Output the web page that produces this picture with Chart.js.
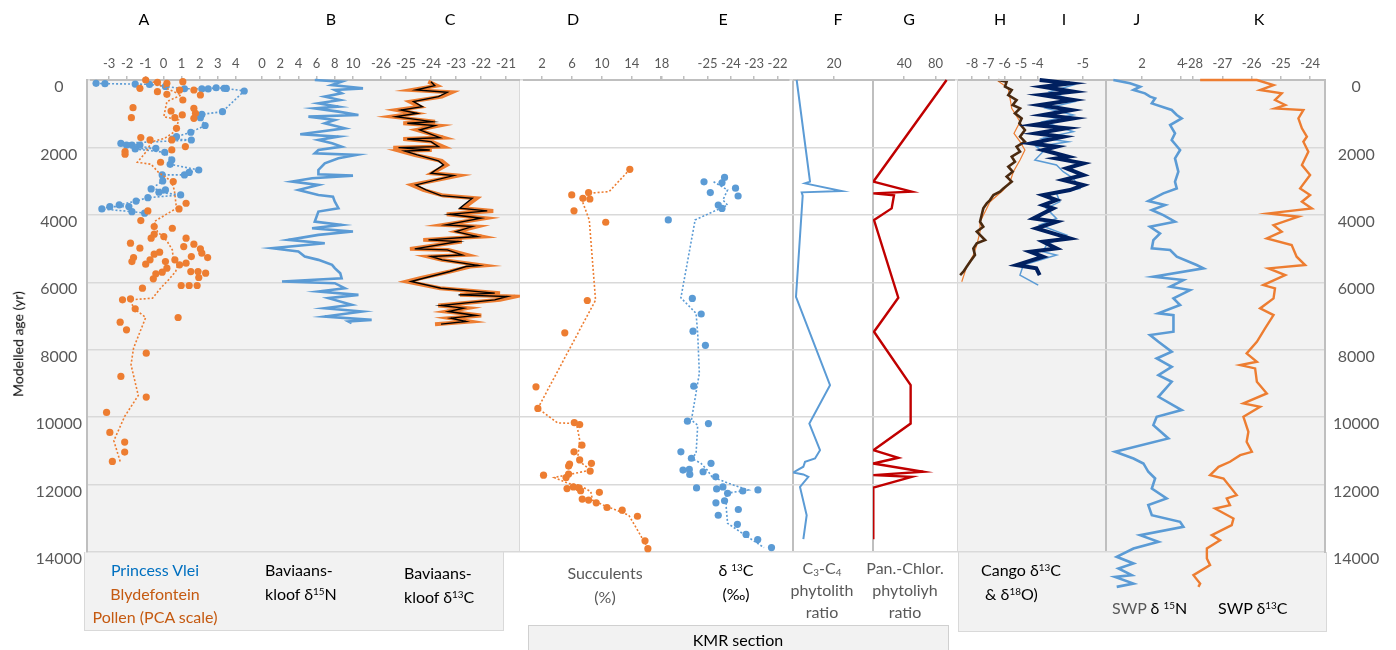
<!DOCTYPE html>
<html>
<head>
<meta charset="utf-8">
<title>Proxy records 0-14000 yr</title>
<script src="https://cdn.jsdelivr.net/npm/chart.js"></script>
<style>
  body { margin: 0; background: #fff; }
  #wrap { position: relative; width: 1396px; height: 650px; overflow: hidden; font-family: Lato, "Liberation Sans", sans-serif; }
  #wrap canvas { position: absolute; top: 0; }
  .bg { position: absolute; background: #f2f2f2; }
  .vl { position: absolute; top: 80px; height: 472px; }
  .t { position: absolute; white-space: nowrap; font-size: 16px; line-height: 23.5px; color: #000; }
  .c { transform: translateX(-50%); text-align: center; }
  .g { color: #595959; }
  .lt { position: absolute; top: 9px; font-size: 16px; line-height: 20px; transform: translateX(-50%); }
  sup { font-size: 0.62em; vertical-align: 0.55em; line-height: 0; }
  sub { font-size: 0.62em; vertical-align: -0.25em; line-height: 0; }
</style>
</head>
<body>
<div id="wrap">
  <!-- panel backgrounds -->
  <div class="bg" style="left:86px;top:80px;width:434px;height:472px"></div>
  <div class="bg" style="left:84px;top:552px;width:418px;height:78px;border:1.5px solid #d9d9d9;border-top:none"></div>
  <div class="bg" style="left:958px;top:80px;width:367px;height:472px"></div>
  <div class="bg" style="left:958px;top:552px;width:367px;height:79px;border:1.5px solid #d9d9d9;border-top:none"></div>
  <div class="bg" style="left:528px;top:625px;width:419px;height:30px;border:1px solid #d0d0d0"></div>
  <div class="vl" style="left:519px;border-left:1.5px solid #d9d9d9"></div>
  <div class="vl" style="left:957px;border-left:1.5px solid #d9d9d9"></div>
  <div class="vl" style="left:792px;border-left:2px solid #bfbfbf"></div>
  <div class="vl" style="left:872px;border-left:2px solid #bfbfbf"></div>
  <div class="vl" style="left:1105px;border-left:2px solid #bfbfbf"></div>
</div>
<script>
// age axis (yr), shared by every panel
const AGE_TICKS = [0, 2000, 4000, 6000, 8000, 10000, 12000, 14000];

// A - Princess Vlei (blue) and Blydefontein (orange) pollen PCA
const aBlueAge = [100,110,120,130,190,260,265,265,230,245,250,326,940,1020,1120,1350,1550,1680,1750,1780,1880,1930,1930,1930,2025,2045,2145,2370,2500,2670,2740,2815,2815,2995,3230,3260,3330,3410,3490,3590,3705,3755,3755,3825,3905,3950];
const aBlueVal = [-3.72,-3.23,-1.56,-0.77,0.11,1.16,2.12,2.47,2.91,3.35,3.47,4.46,3.26,2.12,2.04,2.30,1.51,0.72,0.49,1.54,-2.35,-1.30,-1.74,-2.04,-0.42,-1.56,0.07,0.46,0.37,1.95,1.42,1.16,-0.07,-0.04,-0.68,0.11,-0.25,0.95,-0.86,-1.51,-2.44,-1.91,-2.96,-3.40,-1.74,-1.04];
const aOrangeAge = [0,49,69,99,247,296,296,346,425,445,593,820,840,919,988,1037,1116,1116,1136,1433,1709,1778,1778,1976,2075,2124,2203,2440,3013,3656,3824,3883,4169,4347,4397,4574,4644,4693,4693,4841,4871,4940,4989,5009,5108,5138,5167,5236,5266,5266,5335,5335,5385,5385,5434,5464,5483,5582,5681,5681,5701,5730,5750,5858,5898,6096,6096,6096,6175,6491,6520,6788,7044,7183,7410,8102,8793,9406,9860,10453,10740,11036,11313];
const aOrangeVal = [-0.98,1.07,-0.33,0.19,-1.30,0.89,1.68,-0.33,0.19,2.04,1.07,-1.68,1.68,0.42,1.77,1.04,-1.77,0.63,1.68,0.72,-1.25,-0.74,0.46,1.21,0.46,-2.12,-2.12,-0.16,0.54,1.25,0.86,-0.86,-1.25,-0.51,0.49,-0.51,0.02,-0.68,1.25,-1.82,1.68,1.12,-1.30,2.04,-0.21,2.12,-0.51,1.54,2.44,-1.65,-0.74,0.63,-1.74,0.11,1.25,-0.98,0.89,0.19,1.51,1.91,-0.07,2.33,-0.42,1.95,-0.56,0.98,1.42,1.86,-1.16,-1.82,-2.26,-1.56,0.81,-2.39,-2.04,-0.95,-2.35,-0.95,-3.14,-2.96,-2.14,-2.14,-2.82];
const aTrendAge = [49,296,445,642,1087,1186,1512,1729,1828,2144,2440,2500,2737,2994,3260,3804,4199,4496,4772,5039,5286,5434,5681,5928,6175,6471,6521,6768,7044,7953,8447,9356,9979,10700,11313];
const aTrendVal = [-0.60,0.37,0.98,0.19,0.02,0.84,0.67,0.07,-0.63,-0.98,-1.44,-0.68,-0.28,0.42,0.60,0.72,-0.51,-0.33,0.19,0.49,0.54,0.84,0.67,0.28,-0.16,-0.60,-1.82,-1.65,-0.98,-1.65,-1.79,-1.39,-2.14,-2.74,-2.39];

// B - Baviaanskloof d15N
const bAge = [0,49,148,247,296,395,494,593,692,790,840,939,1037,1087,1186,1284,1433,1610,1680,1778,1877,1976,2075,2174,2223,2322,2470,2668,2796,2836,2915,3013,3112,3260,3409,3458,3606,3804,3903,4199,4298,4397,4496,4594,4742,4841,4989,5088,5236,5335,5483,5582,5730,5879,5977,6027,6175,6274,6373,6471,6669,6768,6867,7015,7114,7163,7212];
const bVal = [5.8,8.75,7.65,11.1,8.0,8.75,6.9,8.6,6.2,8.4,5.8,8.4,10.6,5.1,8.0,6.9,9.1,4.2,8.4,6.2,7.7,8.75,6.2,5.8,10.4,8.4,6.9,6.2,6.2,10.0,5.5,3.3,6.2,4.0,6.2,7.8,8.0,8.4,6.2,5.8,8.75,5.5,10.0,6.2,2.9,6.9,1.1,4.0,4.7,6.2,7.7,8.0,8.6,8.75,2.2,8.0,9.1,6.2,10.6,7.3,9.85,6.9,11.0,6.9,12.05,9.5,9.85];

// C - Baviaanskloof d13C (orange raw, black smoothed)
const cAge = [49,168,296,366,494,642,790,889,988,1087,1235,1284,1354,1482,1709,1749,1828,1976,2006,2075,2104,2223,2401,2519,2766,2836,3112,3260,3428,3507,3804,3883,3982,4100,4298,4347,4496,4644,4742,4792,5009,5039,5187,5236,5335,5503,5533,5681,5879,5977,6175,6323,6373,6422,6521,6689,6768,6867,6985,7064,7163,7242];
const cOrangeVal = [-24.11,-23.77,-24.77,-23.17,-23.57,-24.84,-24.44,-25.37,-24.64,-25.57,-23.84,-25.11,-23.71,-24.57,-23.51,-25.11,-23.97,-23.51,-25.51,-23.97,-25.24,-24.64,-23.57,-23.37,-23.97,-22.91,-24.77,-24.31,-23.51,-22.17,-22.71,-21.51,-23.37,-21.84,-23.51,-22.17,-22.97,-21.97,-24.31,-22.77,-24.84,-23.31,-22.57,-24.11,-23.57,-21.91,-22.44,-23.24,-24.44,-24.97,-23.64,-21.24,-22.84,-20.64,-21.24,-23.71,-22.57,-23.37,-21.99,-23.24,-22.44,-23.84];
const cBlackVal = [-24.0,-23.85,-24.6,-23.35,-23.7,-24.7,-24.35,-25.2,-24.55,-25.4,-23.95,-24.95,-23.85,-24.45,-23.65,-24.95,-24.0,-23.7,-25.3,-24.05,-25.05,-24.55,-23.7,-23.5,-24.0,-23.1,-24.6,-24.2,-23.6,-22.35,-22.85,-21.75,-23.25,-22.0,-23.4,-22.35,-23.0,-22.15,-24.1,-22.9,-24.65,-23.35,-22.75,-24.0,-23.55,-22.1,-22.6,-23.25,-24.3,-24.8,-23.6,-21.45,-22.9,-20.95,-21.45,-23.6,-22.7,-23.3,-22.2,-23.2,-22.6,-23.6];

// D - KMR succulents (%)
const dAge = [2650,3340,3410,3510,3530,3880,4220,6540,7500,9100,9740,10160,10220,10830,11030,11270,11370,11390,11450,11600,11690,11720,11790,12070,12100,12120,12180,12230,12430,12460,12540,12680,12760,12940,13670,13900];
const dVal = [13.73,8.22,5.97,7.46,8.39,6.27,10.51,8.05,5.04,1.19,1.44,6.31,7.03,7.33,6.27,7.03,8.60,5.68,5.55,8.43,5.55,2.20,5.21,6.19,6.91,5.34,7.16,9.66,7.37,8.22,9.24,10.68,12.71,14.75,15.76,16.14];
const dTrendAge = [2650,3310,3360,3510,4150,6530,9740,10170,10190,10680,11270,11570,11790,11970,12020,12210,12460,12610,12910,13800];
const dTrendVal = [13.73,10.97,8.22,7.25,8.31,9.15,1.44,4.07,6.61,7.03,6.74,8.52,3.64,5.55,7.03,8.52,8.73,10.21,13.60,15.93];

// E - KMR d13C (permil)
const eAge = [2890,3020,3050,3210,3340,3440,3710,3810,4150,6480,6940,7450,7870,9080,10120,10190,11030,11220,11370,11550,11570,11620,11700,11770,12070,12100,12130,12160,12190,12260,12480,12540,12740,12910,13180,13480,13630,13870];
const eVal = [-24.27,-25.15,-24.38,-23.80,-24.88,-23.69,-24.54,-24.38,-26.68,-25.65,-25.27,-25.62,-25.09,-25.59,-25.86,-24.96,-26.14,-25.69,-24.85,-25.78,-26.05,-25.19,-25.76,-24.65,-24.34,-25.47,-24.61,-22.84,-23.49,-24.14,-24.27,-24.64,-23.68,-24.54,-23.72,-23.35,-22.85,-22.26];
const eTrendAge = [3020,3260,3560,3710,4150,6460,6920,7520,8700,10090,10240,11080,11220,11370,11570,11770,11970,12160,12260,12660,13150,13500,13870];
const eTrendVal = [-24.74,-24.14,-24.34,-24.14,-25.53,-26.14,-25.49,-25.42,-25.35,-25.69,-25.42,-25.49,-25.69,-25.28,-25.01,-24.81,-24.07,-23.26,-24.20,-24.20,-24.14,-23.39,-22.58];

// F - C3-C4 phytolith ratio, G - Pan.-Chlor. phytolith ratio
const fAge = [0,3016,3066,3294,3333,3432,6429,9050,10190,10980,11225,11325,11470,11640,11700,11770,12070,12910,13620];
const fVal = [1.79,8.29,5.85,23.74,4.23,4.72,1.46,18.05,7.97,13.17,10.73,5.85,5.04,0.16,5.04,7.48,3.41,6.67,5.04];
const gAge = [0,3016,3313,3363,3420,3808,4154,6458,7467,9050,10190,10980,11205,11374,11620,11720,11770,12090,13620];
const gVal = [94.3,0.4,49.5,0.4,26.9,23.9,1.3,32.4,1.3,48.2,48.2,0.4,32.4,0.4,64.4,0.4,49.5,0.4,0.4];

// H - Cango d13C (brown, orange), I - Cango d18O (navy, light blue)
const hAge = [0,50,198,297,445,594,742,841,989,1138,1286,1484,1682,1830,1978,2127,2275,2423,2572,2720,2868,3016,3215,3313,3412,3561,3660,3808,4006,4204,4352,4500,4748,4846,4995,5193,5390,5539,5687,5786];
const hVal = [-6.39,-5.88,-5.98,-5.57,-5.78,-5.27,-5.51,-5.06,-5.37,-4.96,-5.10,-4.76,-5.06,-4.76,-5.27,-5.06,-5.57,-5.37,-5.78,-5.51,-5.88,-5.57,-6.08,-6.29,-6.69,-6.90,-7.10,-7.31,-7.41,-7.51,-7.31,-7.71,-7.20,-7.71,-7.92,-7.82,-8.12,-8.33,-8.53,-8.73];
const hThinAge = [0,248,544,841,1237,1583,1830,2077,2374,2720,3016,3264,3610,3907,4204,4500,4896,5193,5539,5984];
const hThinVal = [-6.49,-5.78,-5.67,-5.57,-5.06,-5.43,-5.06,-4.76,-5.06,-5.47,-5.67,-6.08,-6.90,-7.20,-7.51,-7.51,-7.71,-7.92,-8.33,-8.63];
const iAge = [0,99,198,346,445,594,742,890,1039,1138,1336,1434,1583,1682,1880,1978,2077,2275,2325,2473,2621,2819,2967,3116,3264,3412,3561,3709,3808,4105,4204,4402,4698,4797,4995,5094,5242,5489,5588,5786];
const iVal = [-4.10,-4.73,-4.17,-4.80,-4.14,-4.80,-4.10,-4.76,-4.17,-4.80,-3.97,-4.66,-4.03,-4.59,-3.93,-4.45,-4.17,-4.69,-4.45,-5.01,-4.66,-5.01,-4.59,-5.01,-4.73,-4.17,-4.45,-4.17,-4.38,-3.97,-4.45,-4.03,-4.73,-4.17,-4.45,-3.90,-4.17,-3.62,-4.03,-4.10];
const iThinAge = [0,149,346,643,841,1039,1237,1533,1731,1830,1978,2127,2374,2522,2720,2918,3215,3363,3610,3808,4105,4303,4599,4896,5094,5193,5489,5786,6083];
const iThinVal = [-4.24,-4.80,-4.31,-4.83,-4.24,-4.80,-4.17,-4.80,-4.17,-4.69,-4.03,-4.17,-4.00,-4.45,-4.59,-4.80,-4.94,-4.45,-4.52,-4.24,-4.45,-4.10,-4.66,-4.24,-4.17,-4.45,-3.76,-3.69,-4.07];

// J - SWP d15N, K - SWP d13C
const jAge = [0,99,198,297,396,495,544,693,890,1039,1138,1336,1583,1781,2077,2325,2720,3017,3215,3363,3590,3709,3857,4006,4204,4352,4550,4748,4995,5044,5242,5489,5588,5835,5934,6132,6231,6478,6676,6923,6973,7467,7566,7764,8061,8259,8506,8753,8951,9396,9791,9989,10236,10632,11028,11226,11374,11621,11819,12116,12412,12610,12907,13105,13253,13500,13698,13896,14143,14341,14489,14687,14737,14935,15034];
const jVal = [0.53,1.38,1.90,1.56,2.15,2.41,2.67,2.50,3.52,3.78,4.03,3.44,3.69,3.52,3.95,3.69,3.86,3.69,3.78,3.09,2.32,3.18,2.50,3.09,3.69,2.41,2.92,2.58,2.50,3.44,3.78,4.80,5.15,2.58,4.12,3.44,4.46,3.61,3.95,2.84,3.61,3.61,2.41,2.84,3.52,2.75,3.52,2.84,3.52,2.84,4.03,2.75,2.58,3.35,0.62,1.56,2.07,2.32,2.67,2.50,3.26,2.32,2.50,3.95,4.12,1.90,2.84,1.56,0.70,1.56,0.79,1.47,0.62,1.56,0.70];
const kAge = [0,0,149,297,396,594,742,841,890,1138,1434,1682,1830,2127,2522,2819,3215,3412,3610,3808,3956,4055,4303,4500,4698,4896,5242,5489,5588,5786,6083,6182,6478,6775,6973,7368,7764,8110,8357,8456,8555,8951,9297,9593,9692,9989,10434,10731,11028,11127,11325,11473,11720,11819,12313,12412,12610,12709,13006,13204,13500,13649,13896,14193,14390,14687,14935,15034];
const kVal = [-27.76,-25.82,-25.25,-25.71,-24.97,-25.20,-24.85,-25.20,-24.23,-24.40,-24.28,-24.11,-24.23,-24.06,-24.28,-24.00,-24.34,-24.00,-24.28,-23.94,-25.42,-24.40,-25.25,-24.97,-25.48,-24.63,-24.46,-24.17,-25.42,-24.85,-25.60,-25.20,-25.25,-25.71,-25.25,-25.54,-25.82,-26.17,-25.82,-26.39,-25.88,-25.82,-25.48,-26.28,-25.71,-26.28,-26.11,-26.17,-25.99,-26.39,-26.74,-27.13,-27.42,-26.96,-26.51,-26.85,-26.74,-27.25,-26.62,-26.68,-27.36,-27.08,-27.53,-27.53,-27.42,-27.99,-27.76,-27.82];

// x-axis tick values for each panel
const aTicks = [-3,-2,-1,0,1,2,3,4];
const bTicks = [0,2,4,6,8,10];
const cTicks = [-26,-25,-24,-23,-22,-21];
const dTicks = [2,6,10,14,18];
const eTicks = [-27,-26,-25,-24,-23,-22];
const eTickLabels = [-25,-24,-23,-22];
const fTicks = [20];
const gTicks = [40,80];
const hTicks = [-8,-7,-6,-5,-4];
const iTicks = [-5];
const jTicks = [2,4];
const kTicks = [-28,-27,-26,-25,-24];

const BLUE = "#5b9bd5", ORANGE = "#ed7d31";

Chart.defaults.font.family = 'Lato, "Liberation Sans", sans-serif';

const wrap = document.getElementById("wrap");
const PLOT_TOP = 80, PLOT_H = 472, AGE_MAX = 14000;

const pts = (ages, vals) => ages.map((a, i) => ({ x: vals[i], y: a }));
const line = (data, color, width) => ({ data, showLine: true, borderColor: color, borderWidth: width, pointRadius: 0, tension: 0, clip: false });
const dotted = (data, color) => ({ data, showLine: true, borderColor: color, borderWidth: 1.6, borderDash: [2, 2], pointRadius: 0, clip: false });
const dots = (data, color) => ({ data, showLine: false, backgroundColor: color, borderWidth: 0, pointRadius: 3.6, clip: false });

function makeCanvas(left, width) {
	const c = document.createElement("canvas");
	c.width = width;
	c.height = 650;
	c.style.left = left + "px";
	c.style.width = width + "px";
	c.style.height = "650px";
	wrap.appendChild(c);
	return c;
}

// one chart per panel, all sharing the same age range top to bottom
function panel(p) {
	const yMax = p.yMax || AGE_MAX;
	const bottom = PLOT_TOP + PLOT_H * yMax / AGE_MAX;
	new Chart(makeCanvas(p.left, p.width), {
		type: "scatter",
		data: { datasets: p.datasets },
		options: {
			responsive: false,
			animation: false,
			events: [],
			layout: { padding: { top: 0, bottom: 650 - bottom, left: 0, right: 0 } },
			plugins: { legend: { display: false }, tooltip: { enabled: false } },
			scales: {
				x: {
					type: "linear",
					position: "top",
					min: p.min,
					max: p.max,
					reverse: !!p.reverse,
					afterBuildTicks: (s) => { s.ticks = p.ticks.map((v) => ({ value: v })); },
					afterFit: (s) => { s.height = PLOT_TOP; s.paddingLeft = 0; s.paddingRight = 0; },
					ticks: {
						color: "#595959",
						font: { size: 13 },
						padding: 4,
						autoSkip: false,
						maxRotation: 0,
						callback: (v) => (!p.labels || p.labels.includes(v) ? v : ""),
					},
					grid: { drawOnChartArea: false, drawTicks: true, tickLength: 4, color: "#bfbfbf", lineWidth: 1.5 },
					border: { color: "#bfbfbf", width: 2 },
				},
				y: { display: false, min: 0, max: yMax, reverse: true },
			},
		},
	});
}

// base chart: age axes left and right plus the horizontal grid
new Chart(makeCanvas(0, 1396), {
	type: "scatter",
	data: { datasets: [] },
	options: {
		responsive: false,
		animation: false,
		events: [],
		layout: { padding: { top: PLOT_TOP, bottom: 650 - PLOT_TOP - PLOT_H, left: 0, right: 0 } },
		plugins: { legend: { display: false }, tooltip: { enabled: false } },
		scales: {
			x: { display: false, min: 0, max: 1 },
			y: {
				position: "left",
				min: 0,
				max: AGE_MAX,
				reverse: true,
				afterBuildTicks: (s) => { s.ticks = AGE_TICKS.map((v) => ({ value: v })); },
				afterFit: (s) => { s.width = 87; },
				ticks: { color: "#595959", font: { size: 16 }, padding: 5, labelOffset: 7, crossAlign: "center", callback: (v) => v },
				grid: { color: "#d9d9d9", lineWidth: 1.5, drawTicks: false },
				border: { color: "#bfbfbf", width: 2 },
			},
			yR: {
				axis: "y",
				position: "right",
				min: 0,
				max: AGE_MAX,
				reverse: true,
				afterBuildTicks: (s) => { s.ticks = AGE_TICKS.map((v) => ({ value: v })); },
				afterFit: (s) => { s.width = 71; },
				ticks: { color: "#595959", font: { size: 16 }, padding: 8, labelOffset: 7, crossAlign: "center", callback: (v) => v },
				grid: { display: false, drawTicks: false },
				border: { color: "#bfbfbf", width: 2 },
			},
		},
	},
});

panel({ left: 87, width: 171, min: -4, max: 5, ticks: aTicks, datasets: [
	dots(pts(aOrangeAge, aOrangeVal), ORANGE),
	dotted(pts(aTrendAge, aTrendVal), ORANGE),
	dots(pts(aBlueAge, aBlueVal), BLUE),
	dotted(pts(aBlueAge, aBlueVal), BLUE),
] });
panel({ left: 252, width: 129, min: -1.1, max: 13.08, ticks: bTicks, datasets: [
	line(pts(bAge, bVal), BLUE, 2.6),
] });
panel({ left: 364, width: 156, min: -26.68, max: -20.44, ticks: cTicks, datasets: [
	line(pts(cAge, cBlackVal), "#000000", 1.4),
	line(pts(cAge, cOrangeVal), ORANGE, 4),
] });
panel({ left: 520, width: 160, min: -0.41, max: 19.9, ticks: dTicks, datasets: [
	dots(pts(dAge, dVal), ORANGE),
	dotted(pts(dTrendAge, dTrendVal), ORANGE),
] });
panel({ left: 640, width: 153, min: -27.72, max: -21.51, ticks: eTicks, labels: eTickLabels, datasets: [
	dots(pts(eAge, eVal), BLUE),
	dotted(pts(eTrendAge, eTrendVal), BLUE),
] });
panel({ left: 793, width: 80, min: 0, max: 39, ticks: fTicks, datasets: [
	line(pts(fAge, fVal), BLUE, 2),
] });
panel({ left: 873, width: 82, min: 0, max: 105, ticks: gTicks, datasets: [
	line(pts(gAge, gVal), "#c00000", 2.4),
] });
panel({ left: 958, width: 87, min: -8.86, max: -3.53, ticks: hTicks, datasets: [
	line(pts(hAge, hVal), "#4a2a10", 2.6),
	line(pts(hThinAge, hThinVal), ORANGE, 1.2),
] });
panel({ left: 958, width: 147, min: -5.46, max: -2.4, reverse: true, ticks: iTicks, datasets: [
	line(pts(iAge, iVal), "#002060", 4),
	line(pts(iThinAge, iThinVal), BLUE, 1.5),
] });
panel({ left: 1105, width: 220, min: 0.1, max: 11.38, yMax: 15200, ticks: jTicks, datasets: [
	line(pts(jAge, jVal), BLUE, 2.6),
] });
panel({ left: 1175, width: 150, min: -28.62, max: -23.49, yMax: 15200, ticks: kTicks, datasets: [
	line(pts(kAge, kVal), ORANGE, 2.4),
] });

// text: panel letters, axis title, panel captions
wrap.insertAdjacentHTML("beforeend", `
  <div class="lt" style="left:144px">A</div>
  <div class="lt" style="left:331px">B</div>
  <div class="lt" style="left:450px">C</div>
  <div class="lt" style="left:573px">D</div>
  <div class="lt" style="left:723px">E</div>
  <div class="lt" style="left:838px">F</div>
  <div class="lt" style="left:909px">G</div>
  <div class="lt" style="left:1000px">H</div>
  <div class="lt" style="left:1064px">I</div>
  <div class="lt" style="left:1137px">J</div>
  <div class="lt" style="left:1259px">K</div>
  <div class="t" style="left:18px;top:344px;font-size:14px;transform:translate(-50%,-50%) rotate(-90deg)">Modelled age (yr)</div>
  <div class="t c" style="left:155px;top:558px"><span style="color:#0070c0">Princess Vlei</span><br><span style="color:#c55a11">Blydefontein<br>Pollen (PCA scale)</span></div>
  <div class="t" style="left:265px;top:558px">Baviaans-<br>kloof δ<sup>15</sup>N</div>
  <div class="t" style="left:404px;top:561px">Baviaans-<br>kloof δ<sup>13</sup>C</div>
  <div class="t c g" style="left:605px;top:561px">Succulents<br>(%)</div>
  <div class="t c" style="left:736px;top:558px">δ <sup>13</sup>C<br>(‰)</div>
  <div class="t c g" style="left:822px;top:557px;line-height:22px">C<sub>3</sub>-C<sub>4</sub><br>phytolith<br>ratio</div>
  <div class="t c g" style="left:905px;top:557px;line-height:22px">Pan.-Chlor.<br>phytoliyh<br>ratio</div>
  <div class="t" style="left:981px;top:558px">Cango δ<sup>13</sup>C<br>&nbsp;&amp; δ<sup>18</sup>O)</div>
  <div class="t" style="left:1112px;top:596px"><span class="g">SWP</span> δ <sup>15</sup>N</div>
  <div class="t" style="left:1218px;top:596px">SWP δ<sup>13</sup>C</div>
  <div class="t c" style="left:738px;top:628px">KMR section</div>
`);
</script>
</body>
</html>
